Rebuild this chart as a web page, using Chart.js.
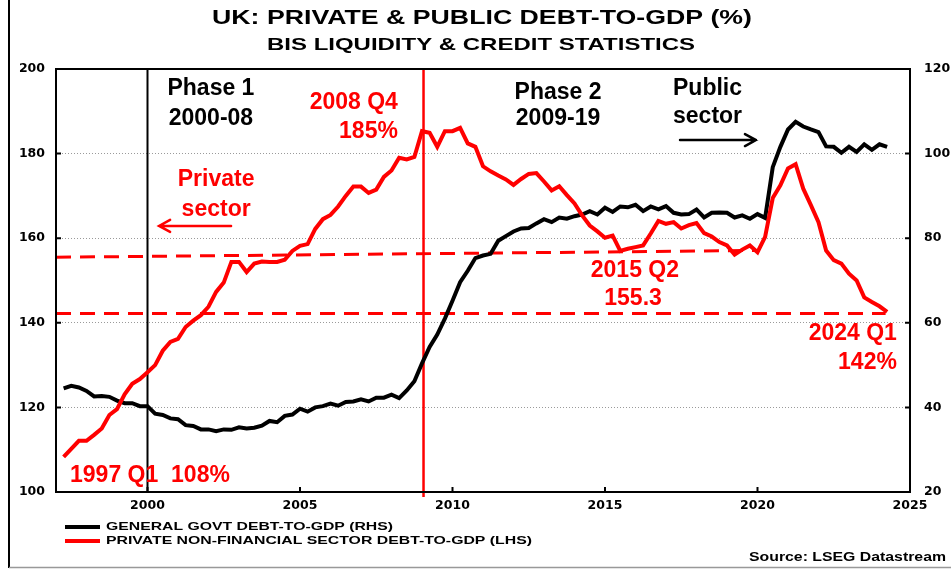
<!DOCTYPE html>
<html>
<head>
<meta charset="utf-8">
<title>UK: private & public debt-to-GDP</title>
<script src="https://cdn.jsdelivr.net/npm/chart.js@4.4.1/dist/chart.umd.min.js"></script>
<style>
    html, body { margin: 0; padding: 0; background: #fff; }
    #wrap { width: 951px; height: 569px; }
</style>
</head>
<body>
<div id="wrap"><canvas id="chart" width="951" height="569"></canvas></div>
<script>
// quarterly, 1997 Q1 .. 2024 Q1
const firstYear = 1997;

// private non-financial sector debt-to-GDP (LHS)
const privateDebt = [
    108.3, 110.2, 112.1, 112.1, 113.5, 115.0, 118.2, 119.6, 123.1, 125.6,
    126.7, 128.3, 130.0, 133.4, 135.5, 136.2, 139.0, 140.5, 141.8, 143.8,
    147.3, 149.5, 154.4, 154.4, 152.0, 154.0, 154.5, 154.4, 154.4, 154.9,
    157.0, 158.2, 158.6, 162.2, 164.5, 165.5, 167.5, 170.0, 172.2, 172.2,
    170.7, 171.5, 174.5, 176.0, 179.0, 178.6, 179.2, 185.3, 184.9, 181.6,
    185.3, 185.3, 186.1, 182.4, 181.6, 177.0, 175.8, 174.8, 173.9, 172.6,
    174.0, 175.2, 175.4, 173.4, 171.3, 172.3, 170.2, 168.2, 165.4, 163.0,
    161.6, 160.1, 160.6, 157.0, 157.5, 157.9, 158.3, 161.1, 164.1, 163.4,
    163.8, 162.3, 163.1, 163.6, 161.2, 160.4, 159.1, 158.3, 156.1, 157.3,
    158.3, 156.7, 160.3, 169.5, 172.5, 176.5, 177.5, 171.7, 167.8, 163.8,
    157.1, 154.8, 154.0, 151.6, 150.0, 146.0, 144.9, 143.9, 142.6
];

// general government debt-to-GDP (RHS)
const govtDebt = [
    44.5, 45.1, 44.7, 43.9, 42.6, 42.7, 42.5, 41.6, 41.0, 41.0,
    40.3, 40.3, 38.5, 38.2, 37.4, 37.2, 35.8, 35.6, 34.8, 34.8,
    34.4, 34.8, 34.7, 35.3, 35.0, 35.2, 35.7, 36.8, 36.5, 38.0,
    38.3, 39.7, 39.0, 40.0, 40.3, 40.9, 40.4, 41.3, 41.4, 41.9,
    41.4, 42.3, 42.3, 43.0, 42.2, 44.0, 46.2, 50.4, 54.3, 57.2,
    61.0, 65.2, 69.6, 72.3, 75.3, 75.9, 76.3, 79.4, 80.5, 81.6,
    82.3, 82.4, 83.5, 84.5, 83.8, 84.9, 84.6, 85.2, 85.6, 86.4,
    85.6, 87.2, 86.2, 87.5, 87.3, 87.9, 86.4, 87.5, 86.8, 87.6,
    86.0, 85.6, 85.7, 86.8, 84.9, 86.0, 86.1, 86.0, 84.9, 85.4,
    84.6, 85.7, 84.8, 96.8, 101.6, 105.7, 107.5, 106.4, 105.7, 105.1,
    101.7, 101.6, 100.2, 101.6, 100.4, 102.2, 100.9, 102.2, 101.6
];

const quarters = privateDebt.map((_, i) => `${firstYear + Math.floor(i / 4)} Q${i % 4 + 1}`);

const xTicks = [2000, 2005, 2010, 2015, 2020, 2025];
const leftTicks = [100, 120, 140, 160, 180, 200];
const rightTicks = [20, 40, 60, 80, 100, 120];

// dashed reference levels (year, LHS value)
const refHigh = [[1997, 155.5], [2020.05, 157.1]];
const refLow = [[1997, 142.2], [2024.2, 142.2]];

// phase dividers
const phaseStart = 2000;
const crisisLine = 2009.05;

const RED = "#ff0000";
const FONT = "'Liberation Sans', Arial, sans-serif";

// quarter label -> decimal year (quarter end)
function quarterX(label) {
    const [y, q] = label.split(" Q");
    return Number(y) + Number(q) / 4;
}

const series = (values) => values.map((v, i) => ({ x: quarterX(quarters[i]), y: v }));
const pairs = (pts) => pts.map(p => ({ x: p[0], y: p[1] }));

/* text drawn at a given width (the source art is stretched sideways) */
function wideText(ctx, text, x, y, font, color, align, width) {
    ctx.save();
    ctx.font = font;
    ctx.fillStyle = color;
    ctx.textBaseline = "middle";
    ctx.textAlign = "left";
    const w = ctx.measureText(text).width;
    const sx = width ? width / w : 1;
    const full = w * sx;
    const left = align === "left" ? x : align === "right" ? x - full : x - full / 2;
    ctx.translate(left, y);
    ctx.scale(sx, 1);
    ctx.fillText(text, 0, 0);
    ctx.restore();
}

const notes = [
    { text: "Phase 1", x: 2002.08, y: 195.5, color: "#000", align: "center" },
    { text: "2000-08", x: 2002.08, y: 188.6, color: "#000", align: "center" },
    { text: "2008 Q4", x: 2008.21, y: 192.2, color: RED, align: "right" },
    { text: "185%", x: 2008.21, y: 185.4, color: RED, align: "right" },
    { text: "Private", x: 2002.25, y: 174.0, color: RED, align: "center" },
    { text: "sector", x: 2002.25, y: 167.1, color: RED, align: "center" },
    { text: "Phase 2", x: 2013.46, y: 194.6, color: "#000", align: "center" },
    { text: "2009-19", x: 2013.46, y: 188.4, color: "#000", align: "center" },
    { text: "Public", x: 2017.23, y: 195.5, color: "#000", align: "left" },
    { text: "sector", x: 2017.23, y: 188.9, color: "#000", align: "left" },
    { text: "2015 Q2", x: 2015.98, y: 152.5, color: RED, align: "center" },
    { text: "155.3", x: 2015.92, y: 145.9, color: RED, align: "center" },
    { text: "2024 Q1", x: 2024.57, y: 137.6, color: RED, align: "right" },
    { text: "142%", x: 2024.57, y: 130.7, color: RED, align: "right" },
    { text: "1997 Q1  108%", x: 1997.46, y: 104.0, color: RED, align: "left" }
];

const arrows = [
    { from: [2002.74, 162.9], to: [2000.38, 162.9], color: RED },
    { from: [2017.46, 183.2], to: [2019.95, 183.2], color: "#000" }
];

function arrow(ctx, x1, y1, x2, y2, color) {
    const dir = Math.sign(x2 - x1);
    ctx.save();
    ctx.strokeStyle = color;
    ctx.lineWidth = 2.5;
    ctx.lineCap = "round";
    ctx.beginPath();
    ctx.moveTo(x1, y1);
    ctx.lineTo(x2, y2);
    ctx.moveTo(x2 - dir * 11, y2 - 6);
    ctx.lineTo(x2, y2);
    ctx.lineTo(x2 - dir * 11, y2 + 6);
    ctx.stroke();
    ctx.restore();
}

const decorations = {
    id: "decorations",
    beforeDraw(chart) {
        const ctx = chart.ctx;
        ctx.save();
        ctx.fillStyle = "#fff";
        ctx.fillRect(0, 0, chart.width, chart.height);
        ctx.restore();
    },
    beforeDatasetsDraw(chart) {
        const { ctx, chartArea: a, scales } = chart;
        ctx.save();
        ctx.lineWidth = 2;
        ctx.strokeStyle = "#000";
        let x = scales.x.getPixelForValue(phaseStart);
        ctx.beginPath(); ctx.moveTo(x, a.top); ctx.lineTo(x, a.bottom + 1); ctx.stroke();
        ctx.strokeStyle = RED;
        ctx.lineWidth = 2.5;
        x = scales.x.getPixelForValue(crisisLine);
        ctx.beginPath(); ctx.moveTo(x, a.top); ctx.lineTo(x, a.bottom + 5); ctx.stroke();
        ctx.restore();
    },
    afterDraw(chart) {
        const { ctx, chartArea: a, scales } = chart;

        // plot frame + inside tick marks
        ctx.save();
        ctx.strokeStyle = "#000";
        ctx.lineWidth = 2;
        ctx.strokeRect(a.left, a.top, a.right - a.left, a.bottom - a.top);
        ctx.beginPath();
        leftTicks.forEach(v => {
            const y = scales.y.getPixelForValue(v);
            ctx.moveTo(a.left, y); ctx.lineTo(a.left + 5, y);
        });
        rightTicks.forEach(v => {
            const y = scales.y1.getPixelForValue(v);
            ctx.moveTo(a.right, y); ctx.lineTo(a.right - 5, y);
        });
        xTicks.forEach(v => {
            const x = scales.x.getPixelForValue(v);
            ctx.moveTo(x, a.bottom); ctx.lineTo(x, a.bottom - 5);
        });
        ctx.stroke();
        ctx.restore();

        // annotations
        notes.forEach(n => {
            wideText(ctx, n.text, scales.x.getPixelForValue(n.x), scales.y.getPixelForValue(n.y) + 1,
                "bold 23px " + FONT, n.color, n.align);
        });
        arrows.forEach(ar => {
            arrow(ctx,
                scales.x.getPixelForValue(ar.from[0]), scales.y.getPixelForValue(ar.from[1]),
                scales.x.getPixelForValue(ar.to[0]), scales.y.getPixelForValue(ar.to[1]),
                ar.color);
        });

        // titles
        wideText(ctx, "UK: PRIVATE & PUBLIC DEBT-TO-GDP (%)", 482, 18, "bold 20px " + FONT, "#000", "center", 540);
        wideText(ctx, "BIS LIQUIDITY & CREDIT STATISTICS", 481, 45, "bold 17px " + FONT, "#000", "center", 428);

        // legend
        const legendRows = [
            { ds: chart.data.datasets[0], y: 527, width: 287 },
            { ds: chart.data.datasets[1], y: 541, width: 426 }
        ];
        legendRows.forEach(r => {
            ctx.save();
            ctx.strokeStyle = r.ds.borderColor;
            ctx.lineWidth = 4;
            ctx.beginPath(); ctx.moveTo(65, r.y); ctx.lineTo(100, r.y); ctx.stroke();
            ctx.restore();
            wideText(ctx, r.ds.label, 106, r.y, "bold 10.5px " + FONT, "#000", "left", r.width);
        });

        wideText(ctx, "Source: LSEG Datastream", 946, 558, "bold 12px " + FONT, "#000", "right", 197);

        // outer frame pieces
        ctx.save();
        ctx.strokeStyle = "#000";
        ctx.lineWidth = 2;
        ctx.beginPath(); ctx.moveTo(9, 0); ctx.lineTo(9, 568); ctx.stroke();
        ctx.strokeStyle = "#999";
        ctx.lineWidth = 1.5;
        ctx.beginPath(); ctx.moveTo(9, 567.5); ctx.lineTo(951, 567.5); ctx.stroke();
        ctx.restore();
    }
};

const tickFont = { family: "'DejaVu Sans', sans-serif", size: 12.5, weight: "bold" };

new Chart(document.getElementById("chart"), {
    type: "line",
    data: {
        datasets: [
            {
                label: "GENERAL GOVT DEBT-TO-GDP (RHS)",
                data: series(govtDebt),
                yAxisID: "y1",
                borderColor: "#000",
                borderWidth: 4,
                pointRadius: 0,
                tension: 0,
                order: 1
            },
            {
                label: "PRIVATE NON-FINANCIAL SECTOR DEBT-TO-GDP (LHS)",
                data: series(privateDebt),
                yAxisID: "y",
                borderColor: RED,
                borderWidth: 4,
                pointRadius: 0,
                tension: 0,
                order: 0
            },
            {
                label: "ref high",
                data: pairs(refHigh),
                yAxisID: "y",
                borderColor: RED,
                borderWidth: 3,
                borderDash: [15, 9],
                pointRadius: 0,
                order: 2
            },
            {
                label: "ref low",
                data: pairs(refLow),
                yAxisID: "y",
                borderColor: RED,
                borderWidth: 3,
                borderDash: [15, 9],
                pointRadius: 0,
                order: 2
            }
        ]
    },
    options: {
        responsive: false,
        animation: false,
        devicePixelRatio: 1,
        layout: { padding: { top: 69, left: 0, right: 0, bottom: 0 } },
        plugins: {
            legend: { display: false },
            title: { display: false },
            tooltip: { enabled: false }
        },
        scales: {
            x: {
                type: "linear",
                min: 1997,
                max: 2025,
                afterBuildTicks: s => { s.ticks = xTicks.map(v => ({ value: v })); },
                afterFit: s => { s.height = 77; },
                grid: { display: false, drawTicks: false },
                border: { display: false },
                ticks: {
                    color: "#000",
                    font: tickFont,
                    padding: 6,
                    maxRotation: 0,
                    autoSkip: false,
                    callback: v => String(v)
                }
            },
            y: {
                position: "left",
                min: 100,
                max: 200,
                afterBuildTicks: s => { s.ticks = leftTicks.map(v => ({ value: v })); },
                afterFit: s => { s.width = 56; },
                grid: { color: "#9a9a9a", lineWidth: 1, drawTicks: false },
                border: { display: false, dash: [1, 2] },
                ticks: { color: "#000", font: tickFont, padding: 11 }
            },
            y1: {
                position: "right",
                min: 20,
                max: 120,
                afterBuildTicks: s => { s.ticks = rightTicks.map(v => ({ value: v })); },
                afterFit: s => { s.width = 41; },
                grid: { display: false, drawTicks: false },
                border: { display: false },
                ticks: { color: "#000", font: tickFont, padding: 14 }
            }
        }
    },
    plugins: [decorations]
});
</script>
</body>
</html>
